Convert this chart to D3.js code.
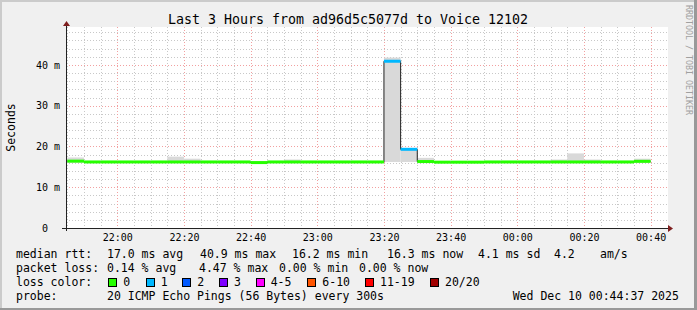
<!DOCTYPE html>
<html>
<head>
<meta charset="utf-8">
<script src="https://cdn.jsdelivr.net/npm/d3@7"></script>
<style>
  body { margin: 0; background: #f0f0f0; }
  svg { display: block; }
  text { font-family: "DejaVu Sans Mono", monospace; fill: #000; }
</style>
</head>
<body>
<svg></svg>
<script>
// ---- data ----
var title = "Last 3 Hours from ad96d5c5077d to Voice 12102";
var startTime = "21:44:37";   // 3 hours ending at 00:44:37

var binStarts = ["21:45","21:50","21:55","22:00","22:05","22:10","22:15","22:20","22:25","22:30",
                 "22:35","22:40","22:45","22:50","22:55","23:00","23:05","23:10","23:15","23:20",
                 "23:25","23:30","23:35","23:40","23:45","23:50","23:55","00:00","00:05","00:10",
                 "00:15","00:20","00:25","00:30","00:35"];
var median    = [16.4,16.2,16.2,16.2,16.2,16.2,16.2,16.2,16.2,16.2,
                 16.2,16.05,16.2,16.2,16.2,16.2,16.2,16.2,16.2,40.9,
                 19.3,16.3,16.15,16.15,16.15,16.2,16.2,16.2,16.2,16.2,
                 16.2,16.2,16.2,16.2,16.35];
var smokeHigh = [17.3,16.4,16.4,16.4,16.4,16.4,17.5,17.0,16.4,16.4,
                 16.4,16.3,16.4,16.8,16.4,16.4,16.4,16.4,16.4,41.8,
                 19.6,17.2,16.3,16.3,16.3,16.4,16.4,16.4,16.4,16.8,
                 18.3,16.8,16.4,16.4,17.0];
var smokeLow  = [16.0,16.0,16.0,16.0,16.0,16.0,16.0,16.0,16.0,16.0,
                 16.0,16.0,16.0,16.0,16.0,16.0,16.0,16.0,16.0,16.2,
                 16.2,16.0,16.0,16.0,16.0,16.0,16.0,16.0,16.0,16.0,
                 16.0,16.0,16.0,16.0,16.0];
var lossIndex = [0,0,0,0,0,0,0,0,0,0, 0,0,0,0,0,0,0,0,0,1, 1,0,0,0,0,0,0,0,0,0, 0,0,0,0,0];

var yTicks = [0, 10, 20, 30, 40];
var yTickLabels = ["0\u00a0\u00a0", "10 m", "20 m", "30 m", "40 m"];
var xTickLabels = ["22:00","22:20","22:40","23:00","23:20","23:40","00:00","00:20","00:40"];

var lossLabels = ["0","1","2","3","4-5","6-10","11-19","20/20"];
var lossColors = ["#26ff00","#00b8ff","#0059ff","#7e00ff","#ff00ff","#ff5500","#ff0000","#a10000"];

var rttLine  = ["median rtt:", "17.0 ms avg", "40.9 ms max", "16.2 ms min", "16.3 ms now", "4.1 ms sd", "4.2", "am/s"];
var lossLine = ["packet loss:", "0.14 % avg", "4.47 % max", "0.00 % min", "0.00 % now"];
var probeLine = ["probe:", "20 ICMP Echo Pings (56 Bytes) every 300s", "Wed Dec 10 00:44:37 2025"];

// ---- setup ----
var width = 697, height = 310;
var svg = d3.select("svg").attr("width", width).attr("height", height);

function toMin(s) {
  var p = s.split(":").map(Number);
  var h = p[0] < 12 ? p[0] + 24 : p[0];
  return h * 60 + p[1] + (p[2] || 0) / 60;
}
var t0 = toMin(startTime);

var plot = { left: 66, right: 666, top: 27, bottom: 228 };

var x = d3.scaleLinear().domain([t0, t0 + 180]).range([plot.left, plot.right]);
var y = d3.scaleLinear().domain([0, 49.3]).range([plot.bottom, plot.top]);

// background + shade frame
svg.append("rect").attr("width", width).attr("height", height).attr("fill", "#f0f0f0");
svg.append("path").attr("d", "M0,0H697V2H2V310H0Z").attr("fill", "#cbcbcb");
svg.append("path").attr("d", "M697,0V310H0V308H694V0Z").attr("fill", "#999999");

// canvas
svg.append("rect")
   .attr("x", plot.left).attr("y", plot.top)
   .attr("width", plot.right - plot.left + 2).attr("height", plot.bottom - plot.top)
   .attr("fill", "#ffffff");

// grid
var minorX = d3.range(Math.ceil(t0 / 5) * 5, t0 + 180, 5).filter(function(m) { return m % 20 !== 0; });
var majorX = xTickLabels.map(toMin);
var minorY = d3.range(2, 49, 2).filter(function(v) { return v % 10 !== 0; });
var majorY = yTicks.filter(function(v) { return v > 0; });

var grid = svg.append("g").attr("shape-rendering", "crispEdges");
grid.selectAll(".vminor").data(minorX).enter().append("line")
    .attr("x1", function(d) { return Math.round(x(d)) + 0.5; })
    .attr("x2", function(d) { return Math.round(x(d)) + 0.5; })
    .attr("y1", plot.top).attr("y2", plot.bottom)
    .attr("stroke", "#c8c8c8").attr("stroke-dasharray", "1,2");
grid.selectAll(".hminor").data(minorY).enter().append("line")
    .attr("x1", plot.left).attr("x2", plot.right + 2)
    .attr("y1", function(d) { return Math.round(y(d)) + 0.5; })
    .attr("y2", function(d) { return Math.round(y(d)) + 0.5; })
    .attr("stroke", "#c8c8c8").attr("stroke-dasharray", "1,2");
grid.selectAll(".vmajor").data(majorX).enter().append("line")
    .attr("x1", function(d) { return Math.round(x(d)) + 0.5; })
    .attr("x2", function(d) { return Math.round(x(d)) + 0.5; })
    .attr("y1", plot.top).attr("y2", plot.bottom)
    .attr("stroke", "#f2a0a0").attr("stroke-dasharray", "1,2");
grid.selectAll(".hmajor").data(majorY).enter().append("line")
    .attr("x1", plot.left).attr("x2", plot.right + 2)
    .attr("y1", function(d) { return Math.round(y(d)) + 0.5; })
    .attr("y2", function(d) { return Math.round(y(d)) + 0.5; })
    .attr("stroke", "#f2a0a0").attr("stroke-dasharray", "1,2");

// bins
var bins = binStarts.map(function(s, i) {
  var st = toMin(s);
  return { s: Math.max(st, t0), e: st + 5, med: median[i], hi: smokeHigh[i], lo: smokeLow[i], loss: lossIndex[i] };
});

// smoke
svg.append("g").selectAll("rect").data(bins).enter().append("rect")
   .attr("x", function(d) { return x(d.s); })
   .attr("width", function(d) { return x(d.e) - x(d.s); })
   .attr("y", function(d) { return y(d.hi); })
   .attr("height", function(d) { return y(d.lo) - y(d.hi); })
   .attr("fill", "#d9d9d9");

// thin dark median line (shows at the steps)
var stepPts = [];
bins.forEach(function(d) { stepPts.push([d.s, d.med]); stepPts.push([d.e, d.med]); });
var line = d3.line().x(function(p) { return x(p[0]); }).y(function(p) { return y(p[1]); });
svg.append("path").attr("d", line(stepPts))
   .attr("fill", "none").attr("stroke", "#202020").attr("stroke-width", 1);

// coloured median, one flat segment per bin
svg.append("g").selectAll("path").data(bins).enter().append("path")
   .attr("d", function(d) { return line([[d.s, d.med], [d.e, d.med]]); })
   .attr("fill", "none")
   .attr("stroke", function(d) { return lossColors[d.loss]; })
   .attr("stroke-width", 3);

// axes
var yAxis = d3.axisLeft(y).tickValues(yTicks).tickSize(0).tickPadding(6)
  .tickFormat(function(d, i) { return yTickLabels[i]; });
var gy = svg.append("g").attr("transform", "translate(" + plot.left + ",0)").call(yAxis);
gy.select(".domain").remove();
gy.selectAll("text").style("font-family", "DejaVu Sans Mono").style("font-size", "10px");

var xAxis = d3.axisBottom(x).tickValues(majorX).tickSize(0).tickPadding(6)
  .tickFormat(function(d, i) { return xTickLabels[i]; });
var gx = svg.append("g").attr("transform", "translate(0," + plot.bottom + ")").call(xAxis);
gx.select(".domain").remove();
gx.selectAll("text").style("font-family", "DejaVu Sans Mono").style("font-size", "10px");

svg.append("line").attr("x1", plot.left - 4).attr("x2", plot.right + 3)
   .attr("y1", plot.bottom + 0.5).attr("y2", plot.bottom + 0.5)
   .attr("stroke", "#222").attr("stroke-width", 1);
svg.append("line").attr("x1", plot.left + 0.5).attr("x2", plot.left + 0.5)
   .attr("y1", plot.bottom + 3).attr("y2", plot.top - 3)
   .attr("stroke", "#222").attr("stroke-width", 1);
svg.append("path").attr("d", "M" + (plot.right + 2) + "," + (plot.bottom - 3) + "L" + (plot.right + 7) + "," + (plot.bottom + 0.5) + "L" + (plot.right + 2) + "," + (plot.bottom + 4) + "Z")
   .attr("fill", "#7f1f1f");
svg.append("path").attr("d", "M" + (plot.left - 3) + "," + (plot.top - 1) + "L" + (plot.left + 0.5) + "," + (plot.top - 6) + "L" + (plot.left + 4) + "," + (plot.top - 1) + "Z")
   .attr("fill", "#7f1f1f");

// title, axis label, watermark
svg.append("text").attr("x", 348).attr("y", 24).attr("text-anchor", "middle")
   .style("font-size", "13.3px").text(title);
svg.append("text").attr("transform", "translate(15,127.5) rotate(-90)")
   .attr("text-anchor", "middle").style("font-size", "11.5px").text("Seconds");
svg.append("text").attr("transform", "translate(686,5) rotate(90)")
   .style("font-size", "8.3px").style("fill", "#a0a0a0").text("RRDTOOL / TOBI OETIKER");

// legend
var legend = svg.append("g").style("font-size", "11.5px");
var rttX = [16, 107, 200, 292, 387, 478, 554, 600];
var lossX = [16, 107, 199, 279, 359];
var probeX = [16, 107, 512.7];
function legendRow(texts, xs, base) {
  legend.append("g").selectAll("text").data(texts).enter().append("text")
        .attr("x", function(d, i) { return xs[i]; }).attr("y", base).text(function(d) { return d; });
}
legendRow(rttLine, rttX, 257.5);
legendRow(lossLine, lossX, 271.5);
legendRow(["loss color:"], [16], 285.5);
legendRow(probeLine, probeX, 299.5);

var boxX = [108.3, 145.7, 182.3, 219, 255.7, 307.3, 365, 430];
var keys = legend.append("g").selectAll("g").data(lossLabels).enter().append("g");
keys.append("rect")
    .attr("x", function(d, i) { return Math.round(boxX[i]) + 0.5; }).attr("y", 278.5)
    .attr("width", 8).attr("height", 8)
    .attr("fill", function(d, i) { return lossColors[i]; })
    .attr("stroke", "#000").attr("stroke-width", 1);
keys.append("text")
    .attr("x", function(d, i) { return boxX[i] + 15; }).attr("y", 285.5)
    .text(function(d) { return d; });
</script>
</body>
</html>
